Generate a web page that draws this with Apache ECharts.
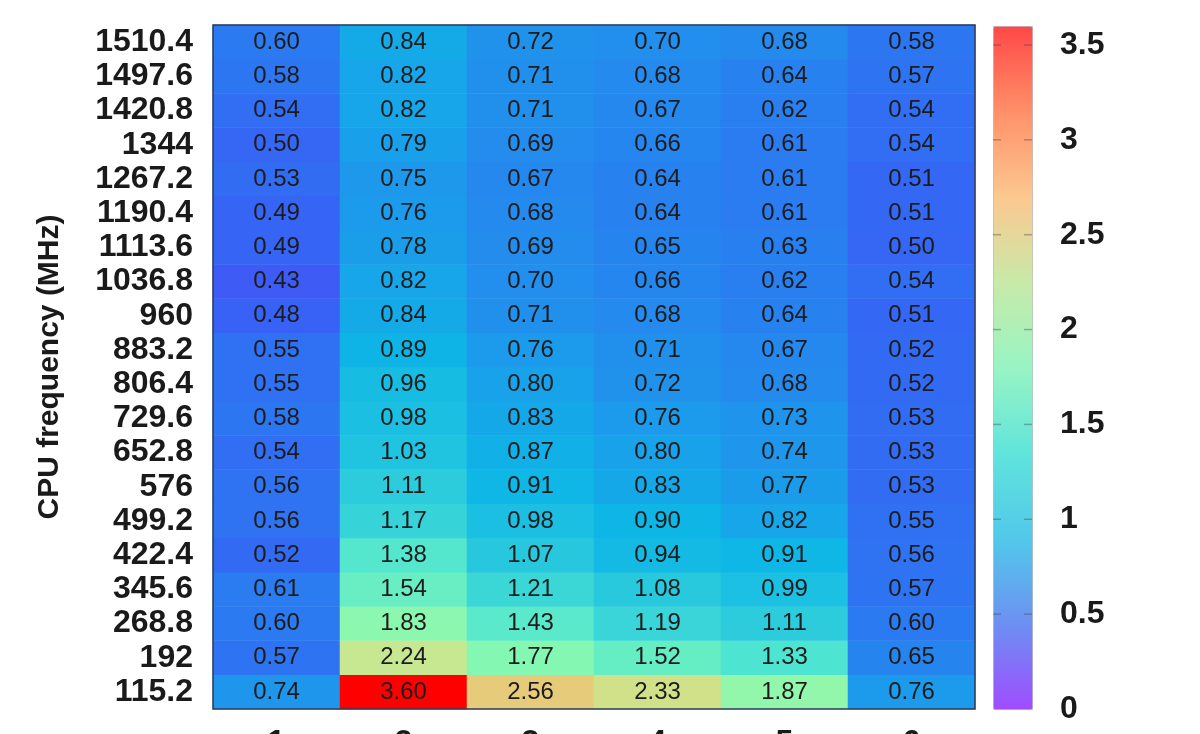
<!DOCTYPE html>
<html>
<head>
<meta charset="utf-8">
<script src="https://cdn.jsdelivr.net/npm/echarts@6/dist/echarts.min.js"></script>
<style>
html,body{margin:0;padding:0;background:#fff;}
#chart{width:1200px;height:734px;}
</style>
</head>
<body>
<div id="chart"></div>
<script>
// Categories
const cores = ['1', '2', '3', '4', '5', '6'];
// CPU frequencies, bottom to top
const freqs = ['115.2', '192', '268.8', '345.6', '422.4', '499.2', '576', '652.8', '729.6', '806.4',
  '883.2', '960', '1036.8', '1113.6', '1190.4', '1267.2', '1344', '1420.8', '1497.6', '1510.4'];
// Values per core column, bottom (115.2) to top (1510.4)
const core1 = [0.74, 0.57, 0.60, 0.61, 0.52, 0.56, 0.56, 0.54, 0.58, 0.55, 0.55, 0.48, 0.43, 0.49, 0.49, 0.53, 0.50, 0.54, 0.58, 0.60];
const core2 = [3.60, 2.24, 1.83, 1.54, 1.38, 1.17, 1.11, 1.03, 0.98, 0.96, 0.89, 0.84, 0.82, 0.78, 0.76, 0.75, 0.79, 0.82, 0.82, 0.84];
const core3 = [2.56, 1.77, 1.43, 1.21, 1.07, 0.98, 0.91, 0.87, 0.83, 0.80, 0.76, 0.71, 0.70, 0.69, 0.68, 0.67, 0.69, 0.71, 0.71, 0.72];
const core4 = [2.33, 1.52, 1.19, 1.08, 0.94, 0.90, 0.83, 0.80, 0.76, 0.72, 0.71, 0.68, 0.66, 0.65, 0.64, 0.64, 0.66, 0.67, 0.68, 0.70];
const core5 = [1.87, 1.33, 1.11, 0.99, 0.91, 0.82, 0.77, 0.74, 0.73, 0.68, 0.67, 0.64, 0.62, 0.63, 0.61, 0.61, 0.61, 0.62, 0.64, 0.68];
const core6 = [0.76, 0.65, 0.60, 0.57, 0.56, 0.55, 0.53, 0.53, 0.53, 0.52, 0.52, 0.51, 0.54, 0.50, 0.51, 0.51, 0.54, 0.54, 0.57, 0.58];
const colorbarTicks = [0, 0.5, 1, 1.5, 2, 2.5, 3, 3.5];

const columns = [core1, core2, core3, core4, core5, core6];
const data = [];
columns.forEach((col, xi) => col.forEach((v, yi) => data.push([xi, yi, v])));
// tick marks on both inner edges of the colour bar
const tickData = [];
colorbarTicks.forEach(t => { if (t > 0) { tickData.push({ value: [0, t], symbolOffset: [4, 0] }); tickData.push({ value: [1, t], symbolOffset: [-4, 0] }); } });

const FONT = "'Liberation Sans', Arial, Helvetica, sans-serif";
const chart = echarts.init(document.getElementById('chart'));
chart.setOption({
  backgroundColor: '#fff',
  animation: false,
  textStyle: { fontFamily: FONT },
  grid: [
    { left: 213, top: 25, width: 762, height: 684, show: true, z: 5, outerBoundsMode: 'none', containLabel: false,
      backgroundColor: 'transparent', borderColor: '#2d3b55', borderWidth: 1.5 },
    { left: 993, top: 26, width: 39, height: 683, show: false, outerBoundsMode: 'none', containLabel: false }
  ],
  xAxis: [
    { type: 'category', data: cores, gridIndex: 0,
      axisLine: { show: false }, axisTick: { show: false }, splitLine: { show: false },
      axisLabel: { fontSize: 32, fontWeight: 'bold', color: '#1a1a1a', margin: 18, fontFamily: FONT } },
    { type: 'value', gridIndex: 1, show: false, min: 0, max: 1 }
  ],
  yAxis: [
    { type: 'category', data: freqs, gridIndex: 0,
      axisLine: { show: false }, axisTick: { show: false }, splitLine: { show: false },
      axisLabel: { interval: 0, fontSize: 32, fontWeight: 'bold', color: '#1a1a1a', margin: 20, fontFamily: FONT, hideOverlap: false },
      name: 'CPU frequency (MHz)', nameLocation: 'middle', nameGap: 148,
      nameTextStyle: { fontSize: 30, fontWeight: 'bold', color: '#1a1a1a', fontFamily: FONT } },
    { type: 'value', gridIndex: 1, position: 'right', min: 0, max: 3.6, interval: 0.5,
      axisLine: { show: false }, splitLine: { show: false }, axisTick: { show: false },
      axisLabel: { fontSize: 32, fontWeight: 'bold', color: '#1a1a1a', margin: 28, fontFamily: FONT,
        showMaxLabel: false,
        formatter: v => colorbarTicks.indexOf(v) >= 0 ? String(v) : '' } }
  ],
  visualMap: [
    { type: 'continuous', show: false, seriesIndex: 0, min: 0, max: 3.6,
      inRange: { color: ['#9040ff', '#3a5cf6', '#0eb6e6', '#50e6d0', '#88f8b0', '#c8e890', '#f4c070', '#ff8050', '#ff0000'] } },
    { type: 'continuous', show: true, seriesIndex: 1, min: 0, max: 3.6, z: 1,
      left: 993, top: 26, itemWidth: 39, itemHeight: 683, padding: 0, text: null, showLabel: false,
      calculable: false, borderColor: '#b8b8b8', borderWidth: 1,
      inRange: { color: ['#a04cff', '#6c90f2', '#52c8ea', '#60e4dc', '#98f4c4', '#c8eaa8', '#fcc890', '#ff9068', '#ff4848'] } }
  ],
  series: [
    { type: 'heatmap', xAxisIndex: 0, yAxisIndex: 0, data: data,
      label: { show: true, fontSize: 24, color: '#1c1c1c', fontFamily: FONT,
        formatter: p => p.value[2].toFixed(2) },
      itemStyle: { borderWidth: 0 },
      emphasis: { disabled: true } },
    { type: 'scatter', xAxisIndex: 1, yAxisIndex: 1, data: [], silent: true },
    { type: 'scatter', xAxisIndex: 1, yAxisIndex: 1, data: tickData, silent: true, z: 20,
      symbol: 'rect', symbolSize: [8, 1.5], itemStyle: { color: 'rgba(70,70,70,0.5)' } }
  ]
});
</script>
</body>
</html>
